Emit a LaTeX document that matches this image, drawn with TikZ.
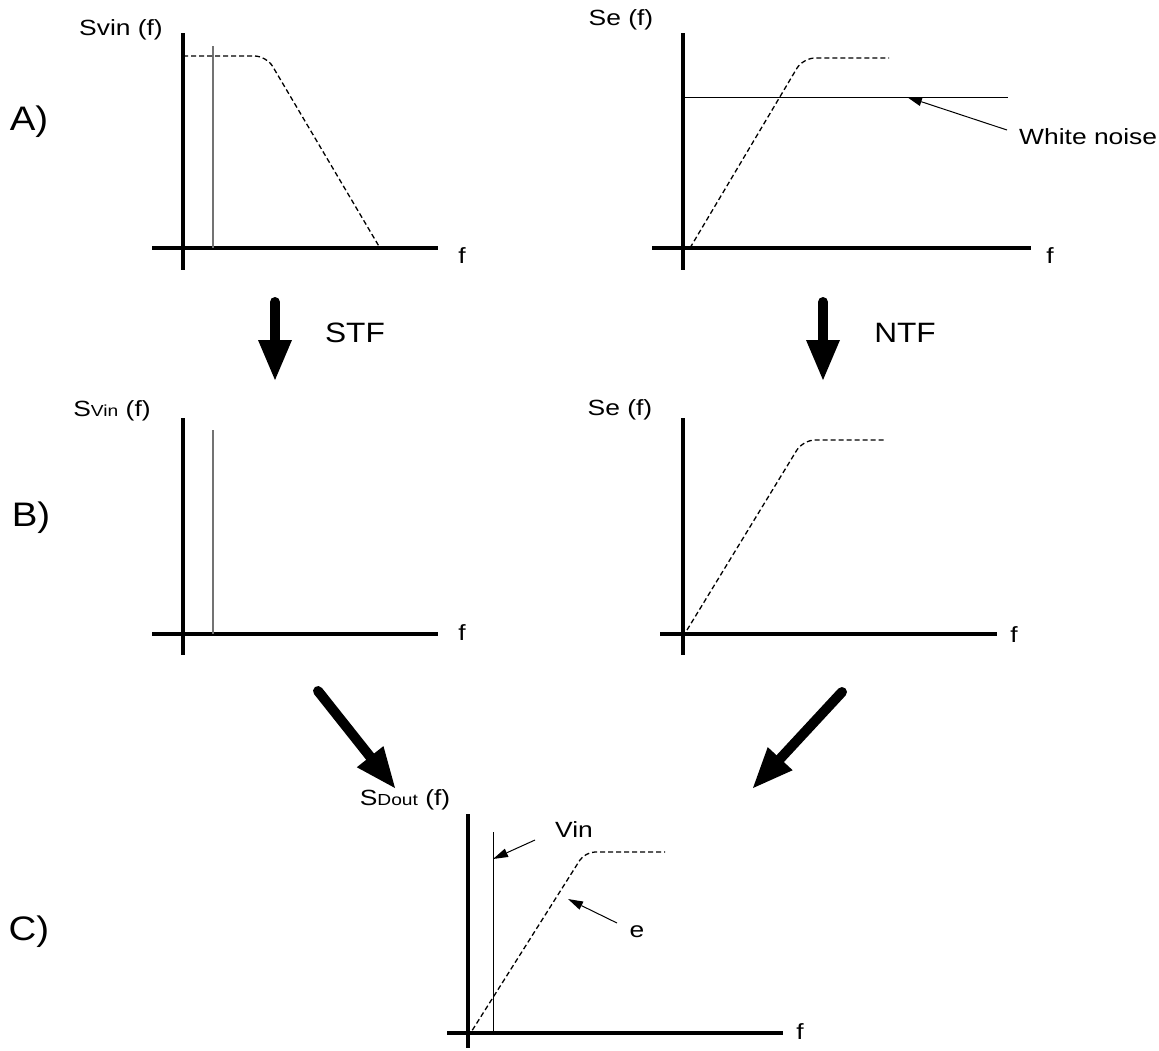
\documentclass[tikz,border=0pt]{standalone}
\usepackage{fontspec}
\setmainfont{Liberation Sans}
\newfontfamily\widefont[FakeStretch=1.2]{Liberation Sans}
\newfontfamily\midfont[FakeStretch=1.13]{Liberation Sans}
\usetikzlibrary{arrows.meta}
\begin{document}
\begin{tikzpicture}[x=1pt,y=-1pt,
  axis/.style={line width=3.3pt},
  curve/.style={line width=1.3pt, dash pattern=on 5pt off 3pt, rounded corners=12pt},
  tone/.style={line width=1.3pt, draw=black!55},
  thinline/.style={line width=1pt},
  bigarrow/.style={line width=10pt, line cap=round, -{Triangle[length=40pt,width=34pt,line width=0pt]}},
  smallarrow/.style={line width=1pt, -{Triangle[length=15pt,width=9pt,line width=0pt]}},
  lbl/.style={font=\widefont\fontsize{22}{26}\selectfont, inner sep=0pt},
  tflbl/.style={font=\midfont\fontsize{28}{32}\selectfont, inner sep=0pt},
  biglbl/.style={font=\midfont\fontsize{34}{40}\selectfont, inner sep=0pt}]
\useasboundingbox (0,0) rectangle (1159,1050);
\newcommand{\smallsub}[1]{{\fontsize{16}{19}\selectfont #1}}

% ---------- Row A, left ----------
\draw[axis] (183,33) -- (183,270);
\draw[axis] (152,248) -- (438,248);
\draw[tone] (213,46) -- (213,248);
\draw[curve] (183,56) -- (266.5,56) -- (380,248);
\node[lbl] (svinA) at (121,30) {Svin (f)};
\node[lbl] (fA1) at (462,256) {f};
\node[biglbl] (labA) at (29,122) {A)};

% ---------- Row A, right ----------
\draw[axis] (683,33) -- (683,270);
\draw[axis] (652,248) -- (1031,248);
\draw[thinline] (683,97) -- (1008,97);
\draw[curve] (690,248) -- (803,58) -- (889,58);
\node[lbl] (seA) at (621,20) {Se (f)};
\node[lbl] (fA2) at (1050,256) {f};
\node[lbl, anchor=west] (wn) at (1019,137) {White noise};
\coordinate (wnTail) at (1007,130);
\coordinate (wnTip) at (907,97);
\draw[smallarrow] (wnTail) -- (wnTip);

% ---------- transfer arrows ----------
\coordinate (stfS) at (275,302); \coordinate (stfE) at (275,380);
\coordinate (ntfS) at (823,302); \coordinate (ntfE) at (823,380);
\draw[bigarrow] (stfS) -- (stfE);
\draw[bigarrow] (ntfS) -- (ntfE);
\node[tflbl] (stf) at (355,333) {STF};
\node[tflbl] (ntf) at (905,333) {NTF};

% ---------- Row B, left ----------
\draw[axis] (183,418) -- (183,655);
\draw[axis] (152,634) -- (438,634);
\draw[tone] (213,430) -- (213,634);
\node[lbl] (svinB) at (112,411) {S\smallsub{Vin} (f)};
\node[lbl] (fB1) at (462,633) {f};
\node[biglbl] (labB) at (31,518) {B)};

% ---------- Row B, right ----------
\draw[axis] (683,418) -- (683,655);
\draw[axis] (660,634) -- (997,634);
\draw[curve] (687,630) -- (803,440) -- (885,440);
\node[lbl] (seB) at (620,410) {Se (f)};
\node[lbl] (fB2) at (1014,635) {f};

% ---------- combining arrows ----------
\coordinate (cLS) at (318,691); \coordinate (cLE) at (395,788);
\coordinate (cRS) at (842,692); \coordinate (cRE) at (753,788);
\draw[bigarrow] (cLS) -- (cLE);
\draw[bigarrow] (cRS) -- (cRE);

% ---------- Row C ----------
\draw[axis] (468,814) -- (468,1048);
\draw[axis] (447,1033) -- (783,1033);
\draw[thinline] (493,832) -- (493,1033);
\draw[curve, rounded corners=10pt] (468,1037) -- (585,852) -- (665,852);
\node[lbl] (sdout) at (405,800) {S\smallsub{Dout} (f)};
\node[lbl] (fC) at (800,1032) {f};
\node[biglbl] (labC) at (29,932) {C)};
\node[lbl] (vin) at (574,830) {Vin};
\node[lbl] (elab) at (637,932) {e};
\coordinate (vinTail) at (535,840); \coordinate (vinTip) at (493,859);
\coordinate (eTail) at (617,923); \coordinate (eTip) at (568,899);
\draw[smallarrow] (vinTail) -- (vinTip);
\draw[smallarrow] (eTail) -- (eTip);
\end{tikzpicture}
\end{document}
